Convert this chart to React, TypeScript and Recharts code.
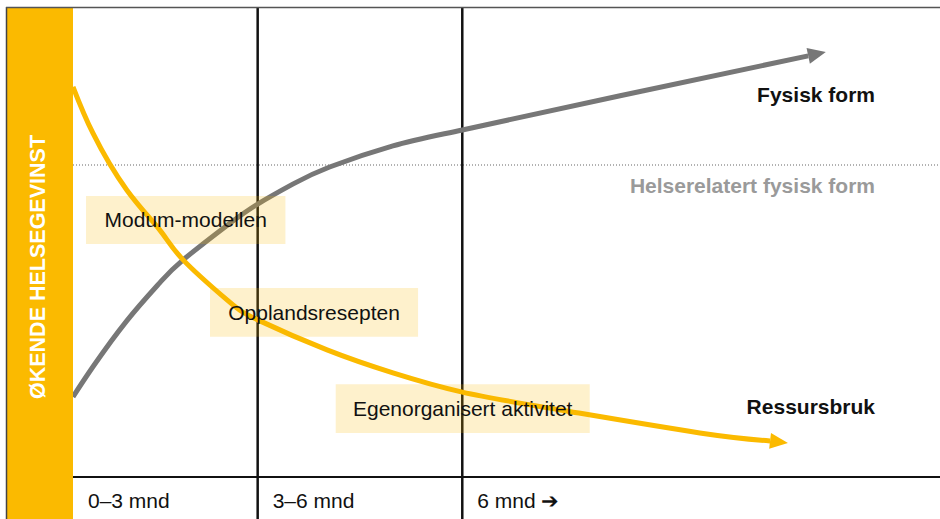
import { ComposedChart, Line, XAxis, YAxis, ReferenceLine, ReferenceArea } from "recharts"

const W = 940
const H = 519
const AXIS_H = 42
const FONT = "Arial, 'Liberation Sans', sans-serif"
const YELLOW = "#FBBA00"
const GRAY = "#777777"

// t = position along the time axis (0–100), v = helsegevinst (0–100)
const fysiskForm = [
  { t: 0, v: 17.1 },
  { t: 2.3, v: 23.5 },
  { t: 6.2, v: 33.3 },
  { t: 10.0, v: 41.4 },
  { t: 12.7, v: 46.3 },
  { t: 17.8, v: 53.7 },
  { t: 21.3, v: 58.2 },
  { t: 25.4, v: 62.5 },
  { t: 29.6, v: 66.1 },
  { t: 36.9, v: 70.6 },
  { t: 44.9, v: 74.0 },
  { t: 63.1, v: 81.3 },
  { t: 84.8, v: 89.8 },
]

const ressursbruk = [
  { t: 0, v: 83.2 },
  { t: 2.3, v: 73.3 },
  { t: 6.2, v: 61.2 },
  { t: 10.0, v: 52.7 },
  { t: 12.7, v: 46.3 },
  { t: 17.8, v: 37.7 },
  { t: 21.3, v: 33.5 },
  { t: 29.3, v: 27.1 },
  { t: 36.9, v: 22.2 },
  { t: 44.9, v: 18.1 },
  { t: 56.2, v: 14.3 },
  { t: 72.3, v: 9.4 },
  { t: 80.4, v: 7.7 },
]

const phaseStarts = [0, 21.3, 44.9]
const phaseLabels = ["0–3 mnd", "3–6 mnd", "6 mnd ➔"]

const helserelatertNiva = 66.5

const tiltak = ["Modum-modellen", "Opplandsresepten", "Egenorganisert aktivitet"]
const tiltakFra = [1.5, 15.8, 30.3]
const tiltakTil = [24.5, 39.8, 59.6]
const tiltakTopp = [59.9, 40.3, 19.8]
const tiltakBunn = [49.7, 29.9, 9.4]

// arrow head (and series name) on the last point of a line
function arrowEnd(data: any[], color: string, name: string, dy: number, fallbackAngle: number) {
  return (props: any) => {
    const { cx, cy, index, points } = props
    if (index !== data.length - 1) return <g key={`dot-${index}`} />
    const prev = points && points[index - 1]
    const a = prev ? Math.atan2(cy - prev.y, cx - prev.x) : fallbackAngle
    const len = 18
    const half = 8
    const tipX = cx + len * Math.cos(a)
    const tipY = cy + len * Math.sin(a)
    const pts = [
      `${tipX},${tipY}`,
      `${cx - half * Math.sin(a)},${cy + half * Math.cos(a)}`,
      `${cx + half * Math.sin(a)},${cy - half * Math.cos(a)}`,
    ].join(" ")
    return (
      <g key={`dot-${index}`}>
        <polygon points={pts} fill={color} />
        <text x={W - 65} y={cy + dy} textAnchor="end" fontSize={21} fontWeight="bold" fill="#111">
          {name}
        </text>
      </g>
    )
  }
}

const GainAxisLabel = (props: any) => {
  const { x, y, width } = props.viewBox
  const cx = x + width / 2 - 2
  const cy = 267
  return (
    <g>
      <rect x={x} y={y} width={width} height={H - y} fill={YELLOW} />
      <line x1={x - 0.5} x2={x - 0.5} y1={y - 1} y2={H} stroke="#444" strokeWidth={1.5} />
      <line x1={x - 1} x2={W} y1={y - 0.5} y2={y - 0.5} stroke="#555" strokeWidth={1.7} />
      <text
        x={cx}
        y={cy}
        transform={`rotate(-90 ${cx} ${cy})`}
        textAnchor="middle"
        dominantBaseline="central"
        fill="#fff"
        fontWeight="bold"
        fontSize={21.5}
      >
        ØKENDE HELSEGEVINST
      </text>
    </g>
  )
}

const PhaseTick = (props: any) => {
  const { x, payload } = props
  const i = phaseStarts.indexOf(payload.value)
  return (
    <g>
      {i > 0 && <line x1={x} x2={x} y1={H - AXIS_H} y2={H} stroke="#111" strokeWidth={2.5} />}
      <text x={x + 15} y={H - 11} fontSize={21} fill="#111">
        {phaseLabels[i]}
      </text>
    </g>
  )
}

export default function App() {
  return (
    <div style={{ position: "absolute", left: 0, top: 0, width: W, height: H, background: "#fff", fontFamily: FONT }}>
      <ComposedChart width={W} height={H} margin={{ top: 8, right: 0, bottom: 0, left: 7 }}>
        <XAxis
          type="number"
          dataKey="t"
          domain={[0, 100]}
          ticks={phaseStarts}
          interval={0}
          height={AXIS_H}
          axisLine={{ stroke: "#111", strokeWidth: 2 }}
          tickLine={false}
          tickSize={0}
          tick={<PhaseTick />}
        />
        <YAxis
          type="number"
          domain={[0, 100]}
          width={66}
          tick={false}
          tickLine={false}
          axisLine={false}
          label={{ content: <GainAxisLabel /> }}
        />
        <ReferenceLine
          y={helserelatertNiva}
          stroke="#999"
          strokeWidth={1.5}
          strokeDasharray="1 2"
          label={{
            content: (p: any) => (
              <text
                x={p.viewBox.x + p.viewBox.width - 65}
                y={p.viewBox.y + 28}
                textAnchor="end"
                fontSize={21}
                fontWeight="bold"
                fill="#9a9a9a"
              >
                Helserelatert fysisk form
              </text>
            ),
          }}
        />
        {phaseStarts.slice(1).map((s) => (
          <ReferenceLine key={s} x={s} stroke="#111" strokeWidth={2.5} />
        ))}
        <Line
          data={fysiskForm}
          dataKey="v"
          type="natural"
          stroke={GRAY}
          strokeWidth={5}
          dot={arrowEnd(fysiskForm, GRAY, "Fysisk form", 46, -0.23)}
          activeDot={false}
          isAnimationActive={false}
        />
        <Line
          data={ressursbruk}
          dataKey="v"
          type="natural"
          stroke={YELLOW}
          strokeWidth={5}
          dot={arrowEnd(ressursbruk, YELLOW, "Ressursbruk", -27, 0.16)}
          activeDot={false}
          isAnimationActive={false}
        />
        {tiltak.map((navn, i) => (
          <ReferenceArea
            key={navn}
            x1={tiltakFra[i]}
            x2={tiltakTil[i]}
            y1={tiltakBunn[i]}
            y2={tiltakTopp[i]}
            fill={YELLOW}
            fillOpacity={0.2}
            stroke="none"
            zIndex={450}
            label={{ value: navn, position: "center", fill: "#111", fontSize: 21 }}
          />
        ))}
      </ComposedChart>
    </div>
  )
}
